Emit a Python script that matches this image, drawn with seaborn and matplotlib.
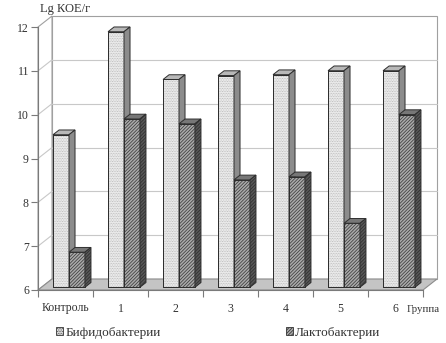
import numpy as np
import pandas as pd
import matplotlib
matplotlib.use("Agg")
import matplotlib.pyplot as plt
from matplotlib.patches import Polygon, Rectangle, Patch
from matplotlib.transforms import Affine2D
import seaborn as sns

# Bacterial counts per group, Lg CFU/g
groups = ["Контроль", "1", "2", "3", "4", "5", "6"]
series = ["Бифидобактерии", "Лактобактерии"]
bifido = [9.48, 11.83, 10.74, 10.83, 10.85, 10.94, 10.94]
lacto = [6.80, 9.84, 9.73, 8.45, 8.52, 7.46, 9.94]
y_ticks = [6, 7, 8, 9, 10, 11, 12]

df = pd.DataFrame({
    "group": groups * 2,
    "series": [series[0]] * len(groups) + [series[1]] * len(groups),
    "value": bifido + lacto,
})

sns.set_theme(style="white")
plt.rcParams["font.family"] = ["Liberation Serif", "DejaVu Serif"]
plt.rcParams["hatch.linewidth"] = 0.55

W, H = 446, 343
fig = plt.figure(figsize=(W / 100, H / 100), dpi=100)
fig.patch.set_facecolor("white")
x0, x1, ytop, ybot = 38, 423, 27, 290
ax = fig.add_axes([x0 / W, (H - ybot) / H, (x1 - x0) / W, (ybot - ytop) / H])
ax.set_facecolor("none")
ymin, ymax = y_ticks[0], y_ticks[-1]
n = len(groups)
px_x = (x1 - x0) / n
px_y = (ybot - ytop) / (ymax - ymin)
DX, DY = 14 / px_x, 11 / px_y      # full floor depth, data units
F0, BD = 0.25, 0.43                # bar front-plane position and bar depth

face = {series[0]: "#f4f4f4", series[1]: "#aaaaaa"}
top_c = {series[0]: "#b8b8b8", series[1]: "#777777"}
side_c = {series[0]: "#8c8c8c", series[1]: "#585858"}
hatch = {series[0]: "..........", series[1]: "//////////"}
hatch_c = {series[0]: "#b0b0b0", series[1]: "#3c3c3c"}
side_hatch = {series[0]: None, series[1]: "//////////"}

sns.barplot(data=df, x="group", y="value", hue="series", order=groups,
            hue_order=series, palette=[face[s] for s in series], width=0.58,
            saturation=1, legend=False, ax=ax)
ax.set_xlim(-0.5, n - 0.5)
ax.set_ylim(ymin, ymax)

wall_ec = "#a0a0a0"
grid_c = "#c8c8c8"
# back wall
ax.add_patch(Rectangle((-0.5 + DX, ymin + DY), n, ymax - ymin, fc="white",
                       ec=wall_ec, lw=0.8, zorder=0.5, clip_on=False))
for v in y_ticks[1:-1]:
    ax.plot([-0.5 + DX, n - 0.5 + DX], [v + DY] * 2, color=grid_c, lw=0.8,
            zorder=0.6, clip_on=False)
# side wall
ax.add_patch(Polygon([(-0.5, ymin), (-0.5 + DX, ymin + DY), (-0.5 + DX, ymax + DY),
                      (-0.5, ymax)], closed=True, fc="white", ec=wall_ec, lw=0.8,
                     zorder=0.5, clip_on=False))
for v in y_ticks[1:-1]:
    ax.plot([-0.5, -0.5 + DX], [v, v + DY], color=grid_c, lw=0.8, zorder=0.6,
            clip_on=False)
# floor
ax.add_patch(Polygon([(-0.5, ymin), (n - 0.5, ymin), (n - 0.5 + DX, ymin + DY),
                      (-0.5 + DX, ymin + DY)], closed=True, fc="#c4c4c4",
                     ec="#8c8c8c", lw=0.8, zorder=0.7, clip_on=False))

shift = Affine2D().translate(F0 * DX, F0 * DY) + ax.transData
z = 3.0
for gi in range(n):
    for si, s in enumerate(series):
        bar = ax.containers[si][gi]
        x, w, v = bar.get_x(), bar.get_width(), bar.get_height()
        bar.set_y(ymin)
        bar.set_height(v - ymin)
        bar.set_transform(shift)
        bar.set_facecolor(face[s])
        bar.set_edgecolor("#2e2e2e")
        bar.set_linewidth(0.7)
        bar.set_zorder(z)
        bar.set_clip_on(False)
        ax.add_patch(Rectangle((x, ymin), w, v - ymin, fill=False, hatch=hatch[s],
                               ec=hatch_c[s], lw=0, transform=shift, zorder=z + 0.05,
                               clip_on=False))
        ax.add_patch(Rectangle((x, ymin), w, v - ymin, fill=False, ec="#2e2e2e",
                               lw=0.7, transform=shift, zorder=z + 0.1, clip_on=False))
        ddx, ddy = BD * DX, BD * DY
        ax.add_patch(Polygon([(x, v), (x + w, v), (x + w + ddx, v + ddy), (x + ddx, v + ddy)],
                             closed=True, fc=top_c[s], ec="#2e2e2e", lw=0.7,
                             transform=shift, zorder=z + 0.2, clip_on=False))
        side_pts = [(x + w, ymin), (x + w + ddx, ymin + ddy), (x + w + ddx, v + ddy), (x + w, v)]
        ax.add_patch(Polygon(side_pts, closed=True, fc=side_c[s], ec="#2e2e2e", lw=0.7,
                             hatch=side_hatch[s], transform=shift, zorder=z + 0.2,
                             clip_on=False))
        z += 1

for name in ["top", "right"]:
    ax.spines[name].set_visible(False)
for name in ["left", "bottom"]:
    ax.spines[name].set_color("#7a7a7a")
    ax.spines[name].set_linewidth(0.8)
    ax.spines[name].set_zorder(2)

ax.set_yticks(y_ticks)
ax.set_yticklabels([str(t) for t in y_ticks])
ax.set_xticks(range(n))
ax.set_xticklabels(groups)
ax.set_xticks(np.arange(-0.5, n, 1.0), minor=True)
ax.tick_params(axis="y", left=True, length=5, width=0.8, color="#7a7a7a",
               labelsize=8.5, pad=1.5, labelcolor="#333333")
ax.tick_params(axis="x", which="major", bottom=False, length=0, labelsize=8.5,
               pad=9, labelcolor="#333333")
ax.tick_params(axis="x", which="minor", bottom=True, length=5, width=0.8,
               color="#7a7a7a")
ax.set_xlabel("")
ax.set_ylabel("")

fig.text(40 / W, 1 - 9 / H, "Lg КОЕ/г", ha="left", va="center", fontsize=9,
         color="#333333")
fig.text(407 / W, 1 - 309 / H, "Группа", ha="left", va="center", fontsize=7.8,
         color="#333333")

handles = [Patch(fc=face[s], ec="#333333", hatch=hatch[s], lw=0.6) for s in series]
fig.legend(handles=handles, labels=series, ncol=2, loc="center left",
           bbox_to_anchor=(56 / W, 1 - 333 / H), frameon=False, fontsize=9.5,
           handlelength=0.55, handleheight=0.55, handletextpad=0.15,
           columnspacing=9.5, borderpad=0, borderaxespad=0, labelcolor="#333333")

fig.savefig("out.png", dpi=100)
